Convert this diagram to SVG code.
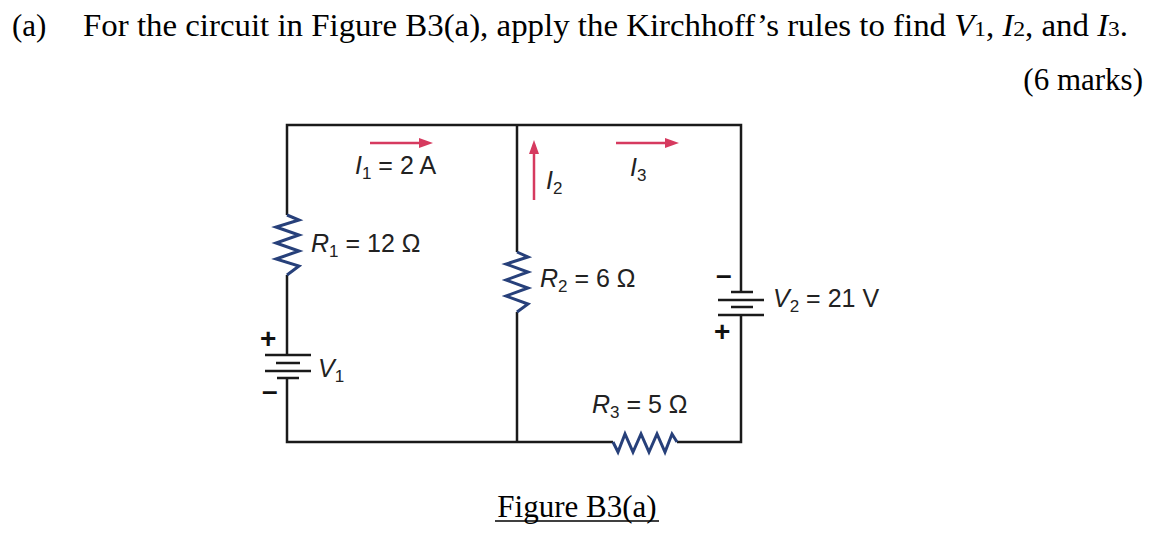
<svg xmlns="http://www.w3.org/2000/svg" width="1172" height="552" viewBox="0 0 1172 552">
<style>
.w{stroke:#1a1a1a;stroke-width:2.5;fill:none}
.r{stroke:#27407a;stroke-width:3;fill:none;stroke-linejoin:miter}
.a{stroke:#d63a5f;stroke-width:2.5;fill:none}
.t{font-family:"Liberation Serif",serif;font-size:31px;fill:#000}
.c{font-family:"Liberation Sans",Arial,sans-serif;font-size:25px;fill:#222}
.s{font-size:17px}
.pm{font-family:"Liberation Sans",Arial,sans-serif;font-size:28px;font-weight:bold;fill:#111}
</style>
<defs><marker id="ah" markerWidth="14" markerHeight="10" refX="2" refY="5" orient="auto" markerUnits="userSpaceOnUse"><path d="M0,0 L14,5 L0,10z" fill="#d63a5f"/></marker></defs>
<text class="t" x="12" y="36">(a)</text>
<text class="t" x="83" y="36" textLength="1045" lengthAdjust="spacingAndGlyphs">For the circuit in Figure B3(a), apply the Kirchhoff’s rules to find <tspan font-style="italic">V</tspan><tspan font-size="22">1</tspan>, <tspan font-style="italic">I</tspan><tspan font-size="22">2</tspan>, and <tspan font-style="italic">I</tspan><tspan font-size="22">3</tspan>.</text>
<text class="t" x="1143" y="90" text-anchor="end">(6 marks)</text>
<g id="connectors">
<path class="w" d="M287,215 V125 H741 V292 M741,315 V442 H677 M613,442 H287 V378 M287,355 V275"/>
<path class="w" d="M517,125 V252 M517,312 V442"/>
</g>
<g id="R1"><path class="r" d="M287,215 L299,220 L276,227 L299,235 L276,243 L299,251 L276,259 L299,266 L287,275"/><text class="c" x="311" y="252" font-style="italic">R<tspan class="s" dy="5" font-style="normal">1</tspan><tspan dy="-5" font-style="normal"> = 12 Ω</tspan></text></g>
<g id="R2"><path class="r" d="M517,252 L528,257 L506,264 L528,272 L506,280 L528,288 L506,296 L528,304 L517,312"/><text class="c" x="540" y="287" font-style="italic">R<tspan class="s" dy="5" font-style="normal">2</tspan><tspan dy="-5" font-style="normal"> = 6 Ω</tspan></text></g>
<g id="R3"><path class="r" d="M613,442 L618,452 L625,434 L633,452 L641,434 L649,452 L657,434 L665,452 L672,434 L677,442"/><text class="c" x="592" y="413" font-style="italic">R<tspan class="s" dy="5" font-style="normal">3</tspan><tspan dy="-5" font-style="normal"> = 5 Ω</tspan></text></g>
<g id="V1"><path class="w" d="M265,355 H311 M276,363 H300 M265,371 H311 M277,378 H299"/><text class="pm" x="260" y="348">+</text><text class="pm" x="262" y="400">–</text><text class="c" x="318" y="377" font-style="italic">V<tspan class="s" dy="5" font-style="normal">1</tspan></text></g>
<g id="V2"><path class="w" d="M731,292 H753 M718,300 H764 M731,307 H753 M718,315 H764"/><text class="pm" x="716" y="284">–</text><text class="pm" x="714" y="341">+</text><text class="c" x="773" y="307" font-style="italic">V<tspan class="s" dy="5" font-style="normal">2</tspan><tspan dy="-5" font-style="normal"> = 21 V</tspan></text></g>
<g id="I1"><path class="a" d="M370,143 H421" marker-end="url(#ah)"/><text class="c" x="355" y="174" font-style="italic">I<tspan class="s" dy="5" font-style="normal">1</tspan><tspan dy="-5" font-style="normal"> = 2 A</tspan></text></g>
<g id="I2"><path class="a" d="M534,200 V152" marker-end="url(#ah)"/><text class="c" x="546" y="189" font-style="italic">I<tspan class="s" dy="5" font-style="normal">2</tspan></text></g>
<g id="I3"><path class="a" d="M616,143 H667" marker-end="url(#ah)"/><text class="c" x="630" y="176" font-style="italic">I<tspan class="s" dy="5" font-style="normal">3</tspan></text></g>
<text class="t" x="577" y="517" text-anchor="middle" font-size="28">Figure B3(a)</text>
<path d="M495,521 H659" stroke="#000" stroke-width="1.5"/>
</svg>
